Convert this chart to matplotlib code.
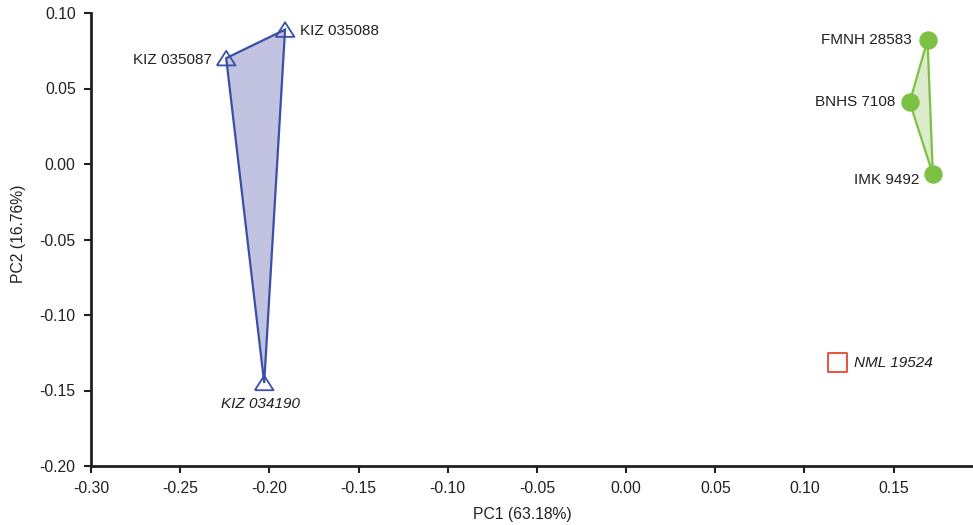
import matplotlib
matplotlib.use("Agg")
import matplotlib.pyplot as plt
from matplotlib.patches import Polygon

plt.rcParams['font.family'] = ['Liberation Sans', 'DejaVu Sans']

# Data
kiz_names = ["KIZ 035087", "KIZ 035088", "KIZ 034190"]
kiz_pc1 = [-0.2242, -0.1912, -0.2029]
kiz_pc2 = [0.0701, 0.0890, -0.1450]

green_names = ["FMNH 28583", "BNHS 7108", "IMK 9492"]
green_pc1 = [0.1690, 0.1590, 0.1720]
green_pc2 = [0.0821, 0.0409, -0.0068]

nml_name = "NML 19524"
nml_pc1 = [0.1186]
nml_pc2 = [-0.1316]

xticks = [-0.30, -0.25, -0.20, -0.15, -0.10, -0.05, 0.00, 0.05, 0.10, 0.15]
yticks = [0.10, 0.05, 0.00, -0.05, -0.10, -0.15, -0.20]

blue = "#3a4fa6"
blue_fill = "#c1c3e1"
green = "#7cc143"
green_fill = "#dbebcb"
red = "#e8472f"

tri = [(-1.0, -0.78), (1.0, -0.78), (0.0, 0.78), (-1.0, -0.78)]

fig = plt.figure(figsize=(9.73, 5.25), dpi=100)
ax = fig.add_axes([91/973, 59/525, (973-91)/973, (466-13)/525])

ax.add_patch(Polygon(list(zip(kiz_pc1, kiz_pc2)), closed=True, facecolor=blue_fill,
                     edgecolor=blue, linewidth=1.6, zorder=2))
ax.add_patch(Polygon(list(zip(green_pc1, green_pc2)), closed=True, facecolor=green_fill,
                     edgecolor=green, linewidth=1.6, zorder=2))

ax.scatter(kiz_pc1, kiz_pc2, marker=tri, s=180, facecolor="none", edgecolor=blue,
           linewidth=1.3, zorder=3)
ax.scatter(green_pc1, green_pc2, marker="o", s=150, facecolor=green, edgecolor=green,
           linewidth=1, zorder=3)
ax.scatter(nml_pc1, nml_pc2, marker="s", s=190, facecolor="none", edgecolor=red,
           linewidth=1.3, zorder=3)

fs = 11
tc = "#231f20"
# KIZ labels
ax.annotate(kiz_names[0], (kiz_pc1[0], kiz_pc2[0]), xytext=(-10, -1), textcoords="offset points",
            ha="right", va="center", fontsize=fs, color=tc)
ax.annotate(kiz_names[1], (kiz_pc1[1], kiz_pc2[1]), xytext=(11, -1), textcoords="offset points",
            ha="left", va="center", fontsize=fs, color=tc)
ax.annotate(kiz_names[2], (kiz_pc1[2], kiz_pc2[2]), xytext=(-3, -15), textcoords="offset points",
            ha="center", va="center", fontsize=fs, color=tc, style="italic")
# green labels
ax.annotate(green_names[0], (green_pc1[0], green_pc2[0]), xytext=(-11, 0), textcoords="offset points",
            ha="right", va="center", fontsize=fs, color=tc)
ax.annotate(green_names[1], (green_pc1[1], green_pc2[1]), xytext=(-10, 0), textcoords="offset points",
            ha="right", va="center", fontsize=fs, color=tc)
ax.annotate(green_names[2], (green_pc1[2], green_pc2[2]), xytext=(-10, -4), textcoords="offset points",
            ha="right", va="center", fontsize=fs, color=tc)
ax.annotate(nml_name, (nml_pc1[0], nml_pc2[0]), xytext=(12, 0), textcoords="offset points",
            ha="left", va="center", fontsize=fs, color=tc, style="italic")

ax.set_xlim(-0.30, 0.1945)
ax.set_ylim(-0.20, 0.10)
ax.set_xticks(xticks)
ax.set_yticks(yticks)
ax.set_xticklabels([f"{v:.2f}" for v in xticks])
ax.set_yticklabels([f"{v:.2f}" for v in yticks])

for s in ["top", "right"]:
    ax.spines[s].set_visible(False)
for s in ["left", "bottom"]:
    ax.spines[s].set_linewidth(2)
    ax.spines[s].set_color(tc)
ax.tick_params(direction="out", length=5, width=1.5, labelsize=11.3, colors=tc, pad=6)

fig.text(522/973, 1 - 514/525, "PC1 (63.18%)", fontsize=11.3, color=tc, ha="center", va="center")
fig.text(19/973, 1 - 234/525, "PC2 (16.76%)", fontsize=11.3, color=tc, ha="center", va="center",
         rotation=90)

fig.savefig("out.png", dpi=100)
